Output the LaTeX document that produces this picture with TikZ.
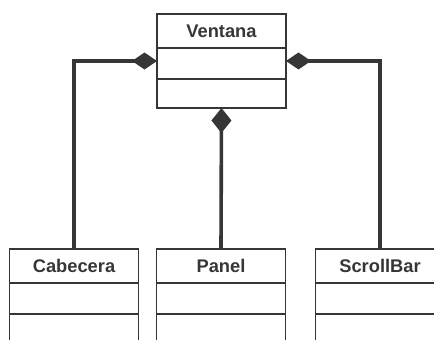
\documentclass[tikz,border=0pt]{standalone}
\usepackage{fontspec}
\setmainfont{Liberation Sans}
\usetikzlibrary{arrows.meta,positioning}
\definecolor{ink}{HTML}{363636}
\tikzset{
  x=1pt, y=-1pt,
  compart/.style={draw=ink, line width=1.4pt, fill=white, minimum width=129pt,
    inner sep=0pt, outer sep=0pt},
  classname/.style={compart, minimum height=34pt, text=ink,
    font=\fontsize{18.3}{18.3}\selectfont\bfseries},
  comp/.style={draw=ink, line width=3.6pt},
  sidetip/.style={{Diamond[length=25pt,width=17pt]}-},
  downtip/.style={{Diamond[length=25pt,width=20pt]}-},
}
\begin{document}
\begin{tikzpicture}
\useasboundingbox (0,0) rectangle (434,340);
\begin{scope}
\clip (0,0) rectangle (434,340);
% whole class Ventana
\node[classname] (ventana) at (221.5,31) {Ventana};
\node[compart, minimum height=31pt, below=0pt of ventana] (ventana-attr) {};
\node[compart, minimum height=29pt, below=0pt of ventana-attr] (ventana-ops) {};
% part classes
\node[classname] (cab) at (74,266) {Cabecera};
\node[compart, minimum height=31pt, below=0pt of cab] (cab-attr) {};
\node[compart, minimum height=31pt, below=0pt of cab-attr] (cab-ops) {};
\node[classname] (panel) at (221,266) {Panel};
\node[compart, minimum height=31pt, below=0pt of panel] (panel-attr) {};
\node[compart, minimum height=31pt, below=0pt of panel-attr] (panel-ops) {};
\node[classname] (scroll) at (380,266) {ScrollBar};
\node[compart, minimum height=31pt, below=0pt of scroll] (scroll-attr) {};
\node[compart, minimum height=31pt, below=0pt of scroll-attr] (scroll-ops) {};
% composition links
\draw[comp, sidetip] ([yshift=2.5pt]ventana-attr.west) -| (cab.north);
\draw[comp, sidetip] ([yshift=2.5pt]ventana-attr.east) -| (scroll.north);
\draw[comp, downtip] (ventana-ops.south) -- (panel.north);
\end{scope}
\end{tikzpicture}
\end{document}
